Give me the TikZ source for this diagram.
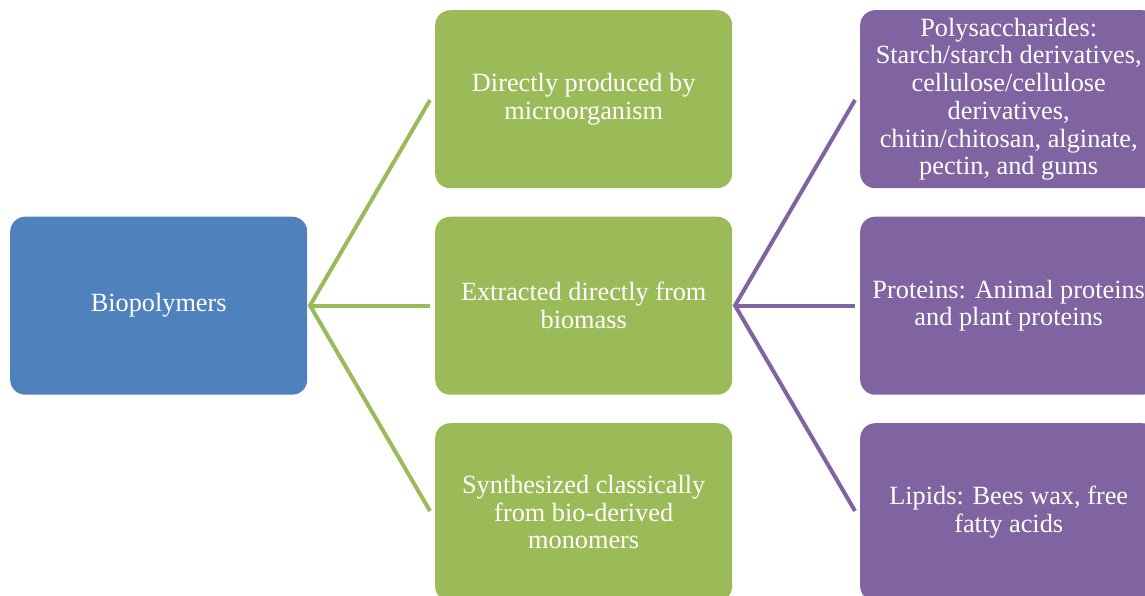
\documentclass[tikz,border=0pt]{standalone}
\usepackage{fontspec}
\setmainfont{Liberation Serif}
\definecolor{cblue}{HTML}{4F81BD}
\definecolor{cgreen}{HTML}{9BBB59}
\definecolor{cpurple}{HTML}{8064A2}
\begin{document}
\begin{tikzpicture}[x=1pt,y=-1pt,
  box/.style={rounded corners=15pt, minimum width=297pt, minimum height=178pt,
    inner sep=0pt, text=white, align=center, font=\fontsize{26.3}{27.7}\selectfont, anchor=north west},
  bluebox/.style={box, fill=cblue},
  greenbox/.style={box, fill=cgreen},
  purplebox/.style={box, fill=cpurple},
  gline/.style={draw=cgreen, line width=4pt},
  pline/.style={draw=cpurple, line width=4pt}]
\useasboundingbox (0,0) rectangle (1145,596);
\clip (0,0) rectangle (1145,596);
\node[bluebox] (bio) at (10,216.5) {Biopolymers};
\node[greenbox] (g1) at (435,10) {Directly produced by\\microorganism};
\node[greenbox] (g2) at (435,216.5) {Extracted directly from\\biomass};
\node[greenbox] (g3) at (435,423) {Synthesized classically\\from bio-derived\\monomers};
\node[purplebox] (p1) at (860,10) {Polysaccharides:\\Starch/starch derivatives,\\cellulose/cellulose\\derivatives,\\chitin/chitosan, alginate,\\pectin, and gums};
\node[purplebox] (p2) at (860,216.5) {Proteins: Animal proteins\\and plant proteins};
\node[purplebox] (p3) at (860,423) {Lipids: Bees wax, free\\fatty acids};
\coordinate (s1) at (310,305.5);
\coordinate (s2) at (735,305.5);
\coordinate (e1) at (430,100);
\coordinate (e2) at (430,305.5);
\coordinate (e3) at (430,511);
\coordinate (f1) at (855,100);
\coordinate (f2) at (855,305.5);
\coordinate (f3) at (855,511);
\draw[gline] (e1) -- (s1) -- (e3);
\draw[gline] (s1) -- (e2);
\draw[pline] (f1) -- (s2) -- (f3);
\draw[pline] (s2) -- (f2);
\end{tikzpicture}
\end{document}
